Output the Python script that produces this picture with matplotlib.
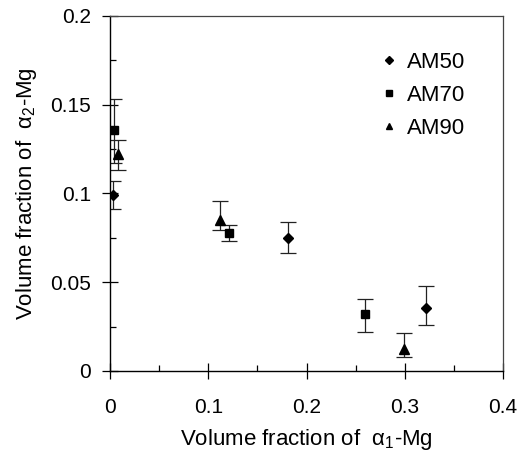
import matplotlib
matplotlib.use("Agg")
import matplotlib.pyplot as plt
from matplotlib.ticker import MultipleLocator

plt.rcParams['font.family'] = ['Liberation Sans', 'DejaVu Sans']
plt.rcParams['mathtext.fontset'] = 'custom'
plt.rcParams['mathtext.rm'] = 'Liberation Sans'
plt.rcParams['mathtext.it'] = 'Liberation Sans:italic'

series = ["AM50", "AM70", "AM90"]
markers = ["D", "s", "^"]
msizes = [5, 5.5, 6.5]

am50_x = [0.003, 0.181, 0.322]
am50_y = [0.099, 0.075, 0.0355]
am50_lo = [0.008, 0.0085, 0.0095]
am50_hi = [0.008, 0.0090, 0.0125]

am70_x = [0.004, 0.121, 0.260]
am70_y = [0.136, 0.078, 0.032]
am70_lo = [0.019, 0.005, 0.010]
am70_hi = [0.017, 0.004, 0.0086]

am90_x = [0.008, 0.112, 0.299]
am90_y = [0.122, 0.085, 0.0124]
am90_lo = [0.009, 0.0056, 0.0045]
am90_hi = [0.008, 0.011, 0.009]

xticks = [0, 0.1, 0.2, 0.3, 0.4]
xticklabels = ['0', '0.1', '0.2', '0.3', '0.4']
yticks = [0, 0.05, 0.1, 0.15, 0.2]
yticklabels = ['0', '0.05', '0.1', '0.15', '0.2']

data = [(am50_x, am50_y, am50_lo, am50_hi),
        (am70_x, am70_y, am70_lo, am70_hi),
        (am90_x, am90_y, am90_lo, am90_hi)]

fig = plt.figure(figsize=(5.24, 4.62), dpi=100)
ax = fig.add_axes([110/524, 91/462, 393/524, 355/462])

for name, m, ms, (x, y, lo, hi) in zip(series, markers, msizes, data):
    ax.errorbar(x, y, yerr=[lo, hi], fmt=m, color='black', ms=ms,
                ecolor='#222222', elinewidth=0.9, capsize=5.5, capthick=0.9,
                label=name)

ax.set_xlim(0, 0.4)
ax.set_ylim(0, 0.2)
ax.set_xticks(xticks)
ax.set_xticklabels(xticklabels)
ax.set_yticks(yticks)
ax.set_yticklabels(yticklabels)
ax.xaxis.set_minor_locator(MultipleLocator(0.05))
ax.yaxis.set_minor_locator(MultipleLocator(0.025))

ax.tick_params(which='major', direction='inout', length=11.5, width=0.9,
               labelsize=15)
ax.tick_params(axis='x', which='major', pad=14)
ax.tick_params(axis='y', which='major', pad=8)
ax.tick_params(which='minor', direction='in', length=4, width=0.9)

for s in ['left', 'bottom']:
    ax.spines[s].set_linewidth(1.0)
    ax.spines[s].set_color('black')
for s in ['top', 'right']:
    ax.spines[s].set_linewidth(0.9)
    ax.spines[s].set_color('#444444')

ax.set_xlabel(r'Volume fraction of  $\mathregular{\alpha_1}$-Mg', fontsize=16, labelpad=7)
ax.set_ylabel(r'Volume fraction of  $\mathregular{\alpha_2}$-Mg', fontsize=16, labelpad=8)

handles, labels = ax.get_legend_handles_labels()
handles = [h[0] for h in handles]
leg = ax.legend(handles, labels, loc='upper right', frameon=False, fontsize=16,
                handlelength=0.6, handletextpad=0.5, labelspacing=0.53,
                markerscale=0.75, bbox_to_anchor=(0.955, 0.955))

fig.savefig('out.png', dpi=100)
